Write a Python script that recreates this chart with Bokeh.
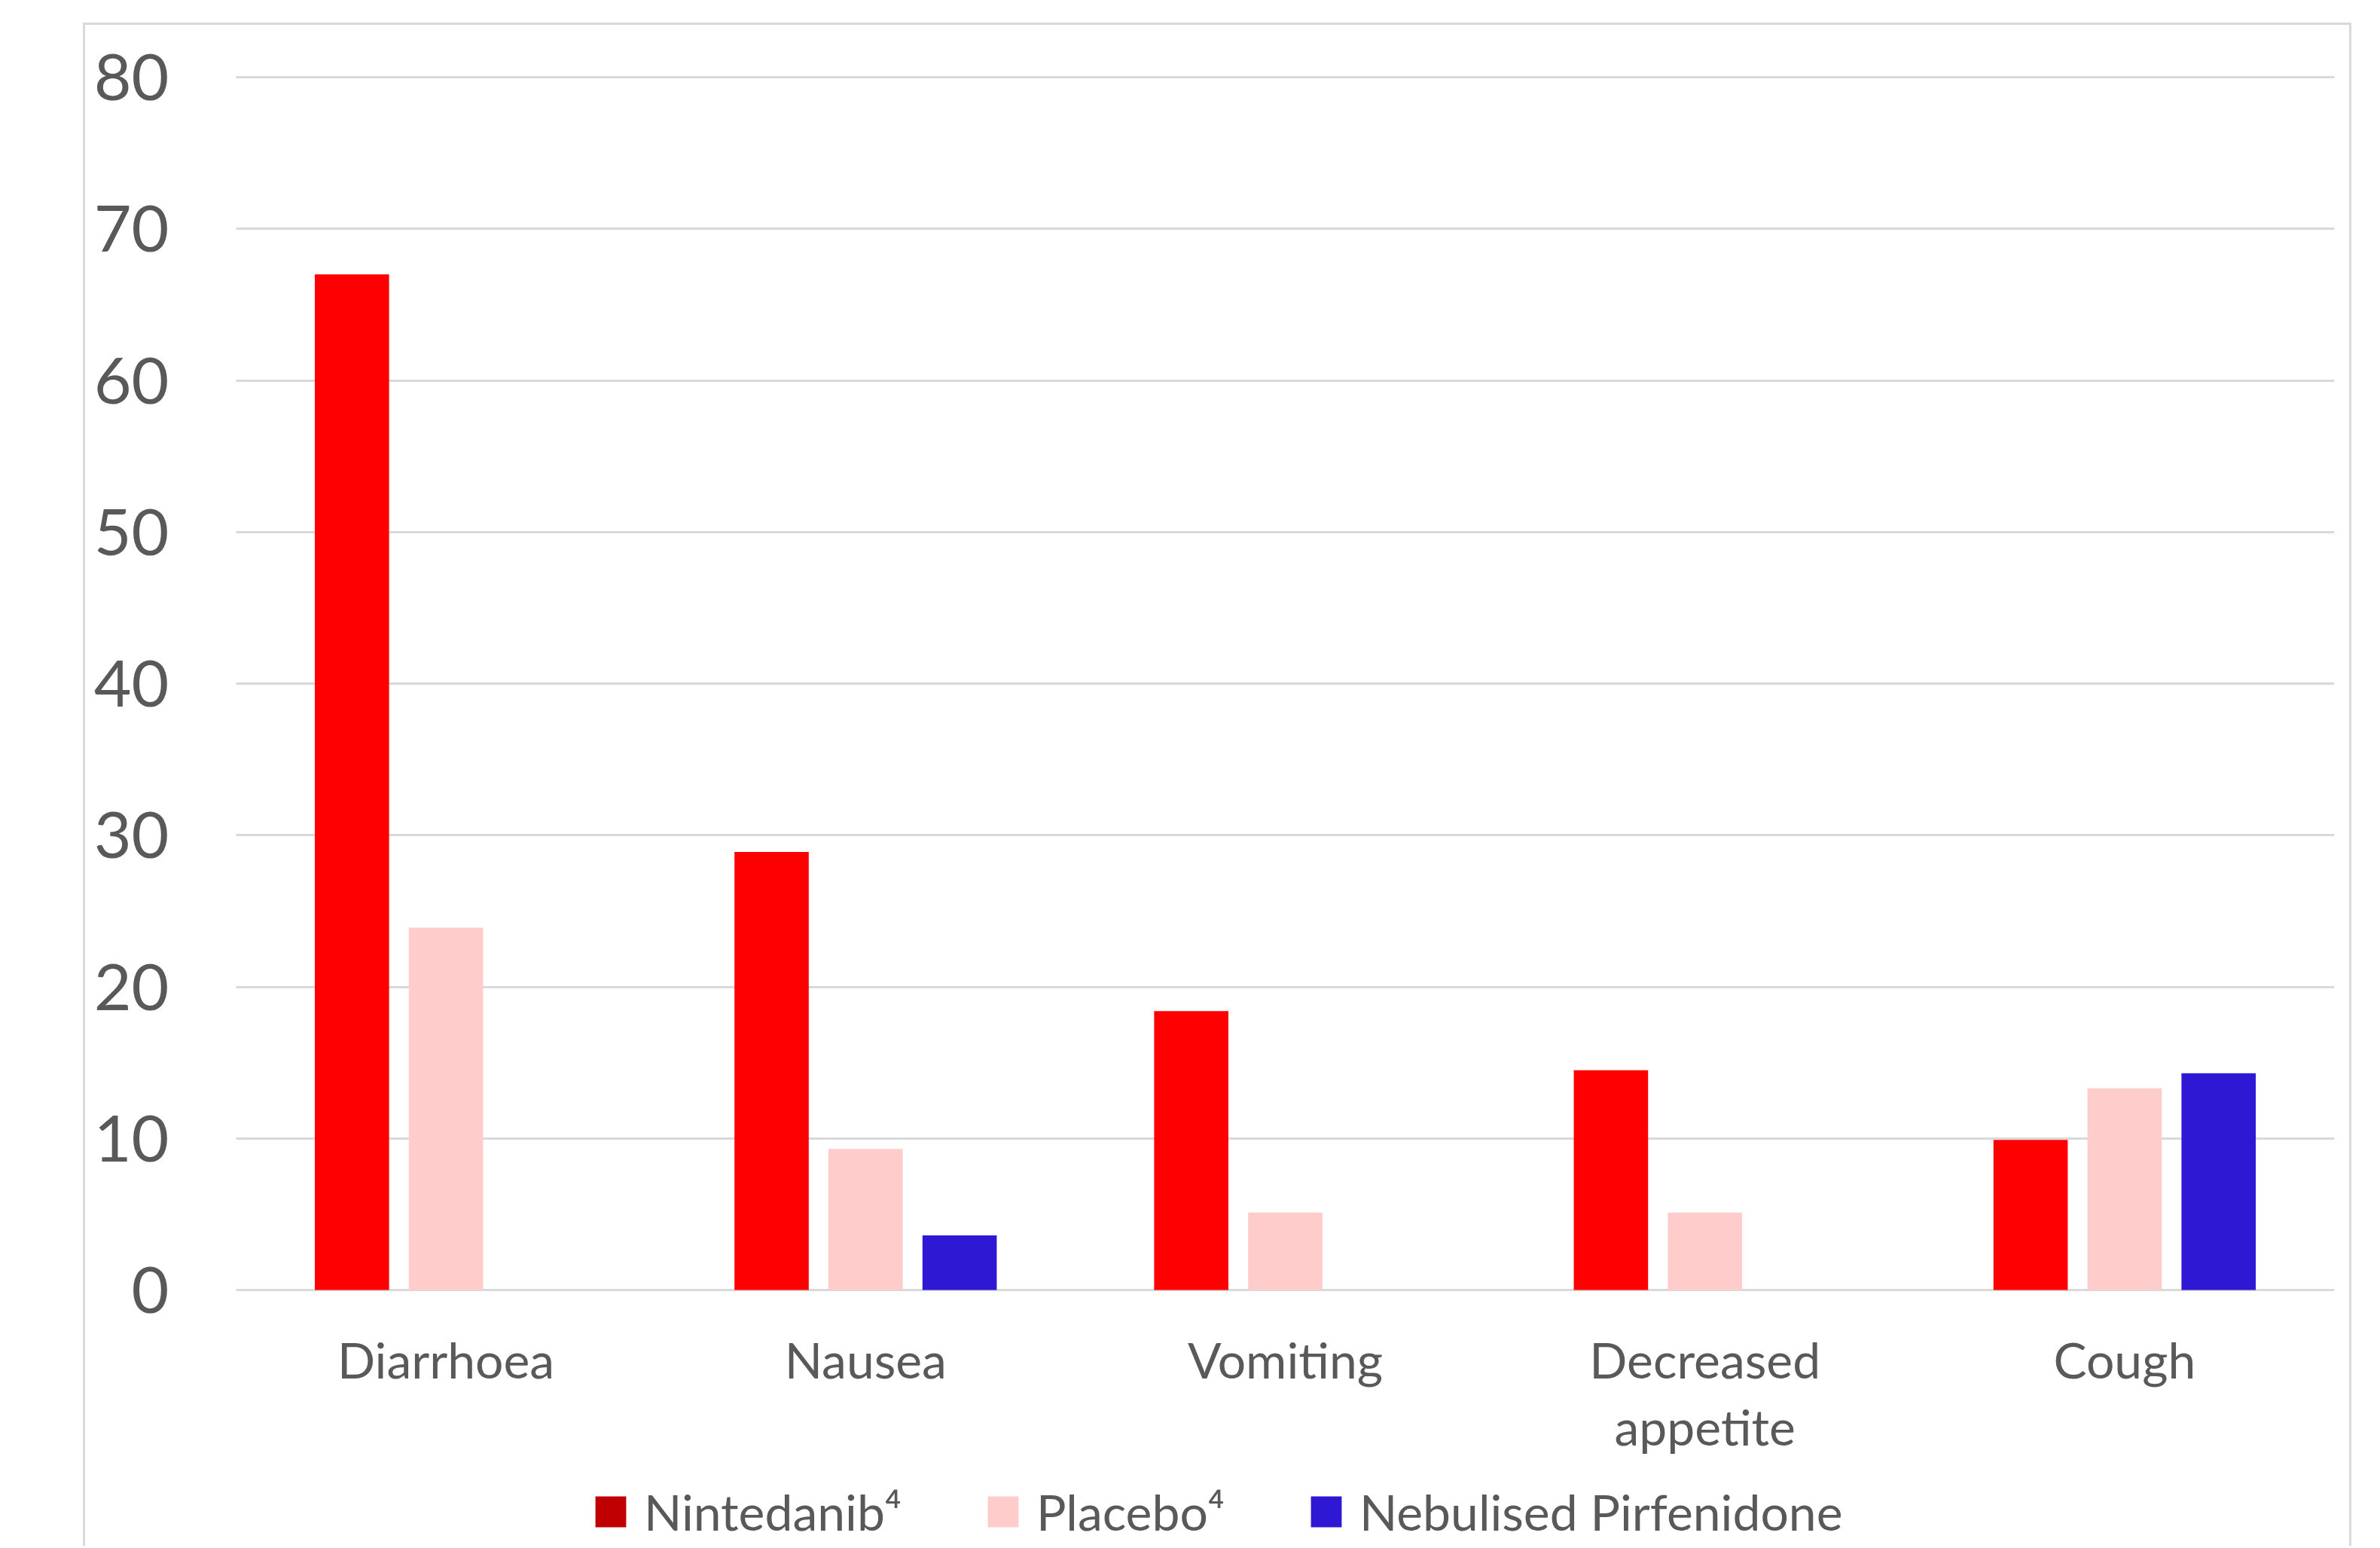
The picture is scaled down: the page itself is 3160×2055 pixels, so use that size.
from bokeh.plotting import figure
from bokeh.models import ColumnDataSource, Range1d, FactorRange, Legend, LegendItem
from bokeh.transform import dodge
from bokeh.embed import file_html
from bokeh.resources import INLINE

categories = ["Diarrhoea", "Nausea", "Vomiting", "Decreased\nappetite", "Cough"]
nintedanib = [67.0, 28.9, 18.4, 14.5, 9.9]
placebo = [23.9, 9.3, 5.1, 5.1, 13.3]
pirfenidone = [None, 3.6, None, None, 14.3]
series_names = ["Nintedanib\u2074", "Placebo\u2074", "Nebulised Pirfenidone"]
y_ticks = [0, 10, 20, 30, 40, 50, 60, 70, 80]

RED = "#FF0000"
RED_LEGEND = "#C00000"
PINK = "#FFCCCC"
BLUE = "#2E18D4"
TEXT = "#595959"
GRID = "#D9D9D9"
FONT = "Lato"

# layout (pixels): canvas is 3012x2022, frame top at 59, frame reaches canvas bottom
CANVAS_H = 2022
FRAME_TOP = 59
ZERO_PX = 1712 - 33          # zero line, canvas pixels
Y_TOP = 80.5
ppu = (ZERO_PX - FRAME_TOP) / Y_TOP
y_bottom = -(CANVAS_H - ZERO_PX) / ppu

p = figure(width=3012, height=CANVAS_H, x_range=FactorRange(factors=categories, range_padding=0),
           y_range=Range1d(y_bottom, Y_TOP), output_backend="svg", toolbar_location=None,
           x_axis_location=None,
           min_border_left=200, min_border_right=26, min_border_top=FRAME_TOP, min_border_bottom=0,
           margin=(30, 0, 0, 110),
           styles={"border-top": "3px solid #D9D9D9", "border-left": "3px solid #D9D9D9",
                   "border-right": "3px solid #D9D9D9"})
p.x_range.range_padding = 0
p.outline_line_color = None
p.background_fill_color = "white"
p.border_fill_color = "white"

src_a = ColumnDataSource(dict(cat=categories, v=nintedanib))
src_b = ColumnDataSource(dict(cat=categories, v=placebo))
pc = [c for c, v in zip(categories, pirfenidone) if v is not None]
pv = [v for v in pirfenidone if v is not None]
src_c = ColumnDataSource(dict(cat=pc, v=pv))

bw = 0.177
pitch = 0.224
p.vbar(x=dodge("cat", -pitch, range=p.x_range), top="v", bottom=0, width=bw, source=src_a,
       fill_color=RED, line_color=None)
p.vbar(x=dodge("cat", 0, range=p.x_range), top="v", bottom=0, width=bw, source=src_b,
       fill_color=PINK, line_color=None)
p.vbar(x=dodge("cat", pitch, range=p.x_range), top="v", bottom=0, width=bw, source=src_c,
       fill_color=BLUE, line_color=None)

# category labels under the zero line
lab_src = ColumnDataSource(dict(cat=categories, y=[0] * len(categories)))
p.text(x="cat", y="y", text="cat", source=lab_src, text_align="center", text_baseline="top",
       y_offset=52, text_font={"value": FONT}, text_font_size="66px", text_color=TEXT,
       text_line_height=1.13)

# legend proxies (Nintedanib swatch is darker than its bars in the reference)
def proxy(color):
    return p.vbar(x="cat", top="v", bottom="v", width=bw,
                  source=ColumnDataSource(dict(cat=[categories[0]], v=[0])),
                  fill_color=color, line_color=None)

la, lb, lc = proxy(RED_LEGEND), proxy(PINK), proxy(BLUE)

legend = Legend(items=[LegendItem(label=series_names[0], renderers=[la]),
                       LegendItem(label=series_names[1], renderers=[lb]),
                       LegendItem(label=series_names[2], renderers=[lc])],
                orientation="horizontal", location=(472, 9),
                glyph_width=51, glyph_height=51, label_standoff=19, spacing=109,
                padding=0, margin=0, border_line_color=None, background_fill_alpha=0,
                label_text_font=FONT, label_text_font_size="66px", label_text_color=TEXT,
                label_height=51)
p.add_layout(legend, "center")

# y axis
p.yaxis.ticker = y_ticks
p.yaxis.axis_line_color = None
p.yaxis.major_tick_line_color = None
p.yaxis.minor_tick_line_color = None
p.yaxis.major_label_standoff = 83
p.yaxis.major_label_text_font = FONT
p.yaxis.major_label_text_font_size = "86px"
p.yaxis.major_label_text_color = TEXT

p.xgrid.grid_line_color = None
p.ygrid.ticker = y_ticks
p.ygrid.grid_line_color = GRID
p.ygrid.grid_line_width = 3

open("out.html", "w").write(file_html(p, INLINE))
